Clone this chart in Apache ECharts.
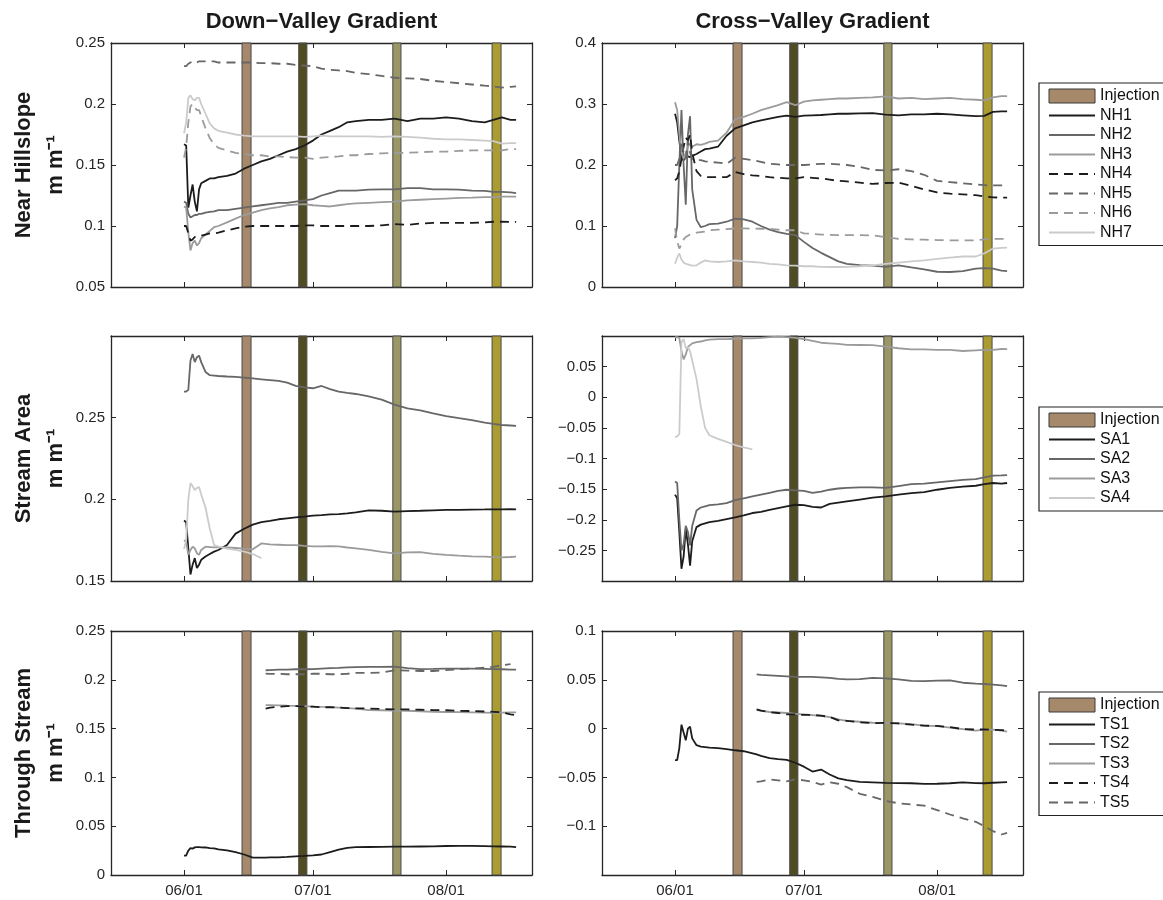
<!DOCTYPE html>
<html>
<head>
<meta charset="utf-8">
<script src="https://cdn.jsdelivr.net/npm/echarts@6.0.0/dist/echarts.min.js"></script>
<style>
html,body{margin:0;padding:0;background:#fff;}
#chart{width:1163px;height:900px;}
</style>
</head>
<body>
<div id="chart"></div>
<script>
// ---------- DATA ----------
// days after 06/01
const D12 = [0,0.5,1,1.5,2,2.5,3,3.5,4,5,6,7,8,10,12,14,16,18,20,22,24,26,28,30,32,34,36,38,40,43,46,49,52,55,58,61,64,67,70,72,74,76,77.3];
const D3  = [0,0.5,1,1.5,2,2.5,3,3.5,4,5,6,7,8,10,12,14,16,19,20,22,24,26,28,30,32,34,36,38,40,43,46,49,52,55,58,61,64,67,70,72,74,76,77.3];
const DE  = [0,0.5,1,1.5,2,2.5,3,3.5,4,5,6,7,8,10,12,14,16,18];
const DL  = [19,20,22,24,26,28,30,32,34,36,38,40,43,46,49,52,55,58,61,64,67,70,72,74,76,77.3];

const xTicks = [0, 30, 61];
const xTickLabels = ['06/01', '07/01', '08/01'];

const injStart = [13.5, 26.7, 48.6, 71.7];
const injEnd   = [15.6, 28.6, 50.5, 73.8];

const rowTitles = ['Down\u2212Valley Gradient', 'Cross\u2212Valley Gradient'];
const rowNames = ['Near Hillslope', 'Stream Area', 'Through Stream'];

const nhNames = ['NH1','NH2','NH3','NH4','NH5','NH6','NH7'];
const saNames = ['SA1','SA2','SA3','SA4'];
const tsNames = ['TS1','TS2','TS3','TS4','TS5'];

// Near Hillslope, down-valley
const dvNH1 = [0.167,0.166,0.115,0.125,0.134,0.12,0.112,0.13,0.135,0.137,0.139,0.139,0.140,0.141,0.143,0.147,0.150,0.153,0.155,0.158,0.161,0.163,0.166,0.170,0.175,0.178,0.181,0.185,0.186,0.187,0.187,0.188,0.186,0.188,0.188,0.189,0.188,0.186,0.185,0.187,0.189,0.187,0.187];
const dvNH2 = [0.12,0.119,0.11,0.107,0.108,0.109,0.109,0.11,0.11,0.111,0.1115,0.112,0.113,0.113,0.114,0.115,0.116,0.117,0.118,0.119,0.119,0.12,0.121,0.122,0.125,0.127,0.129,0.129,0.129,0.1298,0.130,0.130,0.131,0.131,0.130,0.130,0.1298,0.129,0.1288,0.128,0.128,0.1275,0.127];
const dvNH3 = [0.116,0.115,0.095,0.08,0.086,0.088,0.084,0.086,0.09,0.093,0.096,0.099,0.1,0.103,0.106,0.109,0.111,0.113,0.1145,0.1155,0.117,0.1175,0.118,0.117,0.1165,0.116,0.117,0.118,0.1185,0.119,0.1195,0.120,0.121,0.1215,0.122,0.1225,0.123,0.1233,0.1237,0.1237,0.124,0.124,0.124];
const dvNH4 = [0.1,0.1,0.094,0.088,0.089,0.091,0.092,0.092,0.092,0.093,0.094,0.094,0.0945,0.0965,0.098,0.0995,0.1,0.1,0.1,0.1,0.1,0.1,0.1005,0.1005,0.1,0.1,0.1,0.1,0.1,0.1,0.1005,0.1015,0.101,0.102,0.1025,0.1025,0.1025,0.1025,0.103,0.1035,0.1035,0.1033,0.1033];
const dvNH5 = [0.231,0.231,0.233,0.234,0.235,0.234,0.234,0.235,0.235,0.235,0.235,0.235,0.234,0.234,0.234,0.234,0.234,0.2335,0.2335,0.233,0.233,0.232,0.2315,0.231,0.229,0.228,0.2275,0.227,0.2255,0.2245,0.223,0.2215,0.221,0.2205,0.219,0.218,0.217,0.216,0.215,0.2145,0.2135,0.214,0.2145];
const dvNH6 = [0.156,0.165,0.185,0.198,0.2,0.197,0.195,0.195,0.19,0.18,0.172,0.167,0.164,0.162,0.16,0.159,0.158,0.158,0.157,0.157,0.1565,0.156,0.156,0.155,0.156,0.1565,0.157,0.158,0.158,0.159,0.1595,0.160,0.160,0.1605,0.161,0.161,0.1615,0.162,0.162,0.162,0.162,0.163,0.163];
const dvNH7 = [0.176,0.185,0.205,0.207,0.204,0.203,0.205,0.205,0.2,0.192,0.184,0.18,0.178,0.1765,0.175,0.174,0.1735,0.1735,0.1735,0.1735,0.1735,0.1735,0.173,0.1735,0.174,0.1735,0.1735,0.1735,0.1735,0.1735,0.173,0.1735,0.173,0.1725,0.1715,0.171,0.171,0.1705,0.170,0.1695,0.1675,0.168,0.168];

// Near Hillslope, cross-valley
const cvNH1 = [0.284,0.27,0.24,0.21,0.208,0.212,0.214,0.213,0.215,0.218,0.222,0.226,0.227,0.23,0.248,0.26,0.265,0.27,0.273,0.276,0.279,0.281,0.279,0.281,0.2815,0.282,0.283,0.284,0.284,0.2845,0.285,0.2825,0.2815,0.283,0.283,0.284,0.283,0.2815,0.28,0.2805,0.287,0.288,0.288];
const cvNH2 = [0.08,0.1,0.2,0.29,0.2,0.135,0.25,0.28,0.16,0.11,0.098,0.1,0.103,0.104,0.107,0.112,0.111,0.107,0.1,0.094,0.09,0.087,0.085,0.074,0.064,0.056,0.049,0.042,0.038,0.036,0.035,0.033,0.0355,0.032,0.029,0.025,0.0246,0.026,0.03,0.031,0.03,0.027,0.026];
const cvNH3 = [0.303,0.29,0.25,0.22,0.21,0.22,0.23,0.235,0.23,0.234,0.233,0.235,0.238,0.24,0.253,0.275,0.279,0.284,0.29,0.294,0.298,0.303,0.298,0.304,0.306,0.307,0.308,0.309,0.309,0.31,0.311,0.3125,0.309,0.31,0.308,0.309,0.31,0.308,0.307,0.306,0.311,0.313,0.313];
const cvNH4 = [0.175,0.178,0.19,0.21,0.23,0.245,0.24,0.25,0.22,0.19,0.182,0.18,0.18,0.18,0.18,0.1885,0.185,0.183,0.182,0.18,0.179,0.178,0.178,0.18,0.179,0.178,0.176,0.174,0.173,0.171,0.169,0.1705,0.171,0.166,0.16,0.155,0.153,0.152,0.1505,0.1485,0.147,0.1465,0.1465];
const cvNH5 = [0.2,0.2,0.21,0.24,0.22,0.21,0.24,0.22,0.21,0.208,0.208,0.206,0.205,0.204,0.202,0.212,0.21,0.208,0.205,0.202,0.201,0.2,0.2,0.2,0.201,0.202,0.202,0.201,0.2,0.197,0.192,0.191,0.193,0.19,0.184,0.174,0.172,0.17,0.168,0.167,0.1665,0.1667,0.1667];
const cvNH6 = [0.096,0.075,0.063,0.07,0.078,0.082,0.084,0.086,0.087,0.089,0.09,0.091,0.093,0.094,0.095,0.096,0.096,0.0956,0.0955,0.0955,0.094,0.093,0.093,0.088,0.087,0.086,0.0855,0.085,0.085,0.085,0.0845,0.082,0.079,0.078,0.0775,0.077,0.0765,0.0765,0.0765,0.078,0.079,0.079,0.079];
const cvNH7 = [0.038,0.048,0.055,0.045,0.04,0.038,0.037,0.036,0.035,0.0355,0.04,0.0437,0.042,0.041,0.042,0.0437,0.042,0.041,0.04,0.038,0.037,0.0355,0.035,0.034,0.034,0.033,0.0328,0.0328,0.033,0.034,0.0355,0.038,0.04,0.042,0.0437,0.046,0.048,0.05,0.05,0.055,0.063,0.064,0.0645];

// Stream Area, down-valley
const dvSA1 = [0.187,0.186,0.17,0.154,0.16,0.164,0.158,0.16,0.163,0.165,0.1665,0.168,0.169,0.172,0.179,0.182,0.1845,0.186,0.1868,0.1878,0.1884,0.189,0.1894,0.19,0.1903,0.1908,0.191,0.1914,0.192,0.1932,0.193,0.1925,0.1928,0.193,0.1933,0.1935,0.1936,0.1937,0.1938,0.1939,0.1939,0.194,0.1939];
const dvSA2 = [0.266,0.266,0.267,0.285,0.289,0.284,0.287,0.288,0.284,0.278,0.276,0.2758,0.2755,0.2752,0.275,0.2745,0.274,0.2735,0.273,0.2725,0.2715,0.2695,0.2685,0.268,0.2694,0.2675,0.266,0.2652,0.2645,0.263,0.261,0.258,0.2557,0.2545,0.2527,0.251,0.2497,0.2485,0.247,0.2462,0.2455,0.2452,0.245];
const dvSA3 = [0.175,0.174,0.166,0.169,0.171,0.17,0.167,0.166,0.169,0.171,0.1708,0.1706,0.1706,0.1705,0.1702,0.1698,0.1694,0.173,0.1724,0.1722,0.172,0.172,0.1715,0.1712,0.1712,0.1714,0.1712,0.1705,0.170,0.169,0.1678,0.1669,0.1675,0.1677,0.1666,0.166,0.1655,0.1651,0.1649,0.1646,0.1645,0.1647,0.1649];
const dvSA4 = [0.1696,0.175,0.2,0.21,0.208,0.2057,0.207,0.2075,0.203,0.195,0.182,0.172,0.171,0.1698,0.169,0.168,0.1665,0.164];

// Stream Area, cross-valley
const cvSA1 = [-0.159,-0.165,-0.22,-0.28,-0.26,-0.215,-0.24,-0.275,-0.235,-0.212,-0.208,-0.206,-0.204,-0.202,-0.199,-0.196,-0.193,-0.189,-0.187,-0.184,-0.181,-0.178,-0.1755,-0.176,-0.179,-0.18,-0.174,-0.172,-0.17,-0.167,-0.164,-0.162,-0.159,-0.1565,-0.155,-0.151,-0.148,-0.146,-0.1445,-0.142,-0.14,-0.141,-0.14];
const cvSA2 = [-0.1375,-0.14,-0.2,-0.25,-0.24,-0.21,-0.22,-0.242,-0.21,-0.185,-0.18,-0.178,-0.176,-0.175,-0.173,-0.168,-0.165,-0.162,-0.159,-0.156,-0.153,-0.151,-0.152,-0.153,-0.156,-0.154,-0.151,-0.149,-0.148,-0.147,-0.147,-0.148,-0.145,-0.142,-0.141,-0.139,-0.137,-0.135,-0.1337,-0.131,-0.128,-0.1275,-0.127];
const cvSA3 = [0.098,0.098,0.097,0.075,0.062,0.07,0.082,0.085,0.088,0.09,0.091,0.093,0.094,0.095,0.095,0.0955,0.096,0.096,0.097,0.098,0.099,0.098,0.097,0.095,0.092,0.089,0.088,0.087,0.0855,0.0853,0.085,0.0826,0.08,0.0783,0.078,0.0775,0.0772,0.0755,0.0765,0.0772,0.0775,0.0788,0.0785];
const cvSA4 = [-0.065,-0.064,-0.06,0.09,0.095,0.08,0.082,0.075,0.06,0.03,-0.015,-0.05,-0.062,-0.068,-0.073,-0.078,-0.082,-0.085];

// Through Stream, down-valley
const dvTS1 = [0.0198,0.02,0.025,0.0276,0.027,0.0283,0.0286,0.0286,0.0284,0.0282,0.0276,0.0272,0.0262,0.0252,0.0234,0.021,0.0178,0.0178,0.018,0.0181,0.0185,0.019,0.0195,0.0202,0.021,0.0235,0.026,0.0278,0.0285,0.0287,0.0288,0.029,0.029,0.0292,0.0294,0.0297,0.0298,0.0298,0.0296,0.0294,0.0292,0.029,0.0286];
const dvTS2 = [0.2098,0.21,0.2105,0.2105,0.2108,0.2108,0.211,0.2115,0.212,0.2123,0.2128,0.213,0.2132,0.2132,0.2135,0.212,0.211,0.2112,0.2115,0.2115,0.2115,0.2112,0.211,0.2108,0.2105,0.2105];
const dvTS3 = [0.174,0.174,0.1738,0.1735,0.1733,0.173,0.1725,0.1722,0.172,0.1715,0.171,0.1705,0.169,0.1688,0.1685,0.1683,0.1678,0.1672,0.167,0.1668,0.1666,0.1664,0.1662,0.1664,0.1666,0.1666];
const dvTS4 = [0.1705,0.1715,0.1725,0.173,0.173,0.1728,0.1725,0.1718,0.172,0.1715,0.171,0.1708,0.1706,0.1702,0.1696,0.1696,0.1693,0.169,0.1688,0.1682,0.168,0.1675,0.1672,0.1668,0.1645,0.1638];
const dvTS5 = [0.2064,0.206,0.2062,0.2057,0.2057,0.2057,0.2062,0.2062,0.2057,0.2057,0.2062,0.207,0.207,0.2075,0.2098,0.2095,0.209,0.209,0.21,0.2108,0.2115,0.2125,0.2132,0.215,0.216];

// Through Stream, cross-valley
const cvTS1 = [-0.0323,-0.0323,-0.02,0.004,-0.004,-0.012,0.0,0.002,-0.01,-0.017,-0.0185,-0.019,-0.0195,-0.02,-0.021,-0.0222,-0.0232,-0.0265,-0.028,-0.0303,-0.0312,-0.032,-0.035,-0.039,-0.044,-0.042,-0.047,-0.051,-0.0528,-0.0545,-0.055,-0.0556,-0.0558,-0.056,-0.0566,-0.0565,-0.056,-0.055,-0.0558,-0.056,-0.0555,-0.055,-0.0549];
const cvTS2 = [0.0556,0.055,0.0545,0.054,0.0535,0.053,0.053,0.053,0.0525,0.052,0.051,0.0505,0.0507,0.052,0.0515,0.0504,0.049,0.0487,0.0492,0.0494,0.047,0.046,0.0457,0.045,0.0443,0.0435];
const cvTS3 = [0.019,0.0185,0.017,0.0165,0.016,0.015,0.0145,0.0138,0.013,0.0118,0.0095,0.008,0.007,0.006,0.0058,0.0053,0.0045,0.003,0.0026,0.001,-0.0005,-0.002,-0.001,-0.001,-0.002,-0.003];
const cvTS4 = [0.0197,0.0185,0.0168,0.016,0.0145,0.0145,0.014,0.014,0.0132,0.012,0.0085,0.008,0.0065,0.0055,0.0058,0.0053,0.004,0.003,0.0028,0.0015,-0.0005,-0.001,-0.0008,-0.0012,-0.0015,-0.0019];
const cvTS5 = [-0.0545,-0.054,-0.052,-0.053,-0.054,-0.052,-0.053,-0.0545,-0.0573,-0.055,-0.0565,-0.06,-0.0668,-0.07,-0.074,-0.0765,-0.0778,-0.079,-0.0835,-0.088,-0.092,-0.0955,-0.1,-0.105,-0.1085,-0.1068];

// y ticks per panel
const yTicks = [
  [0.05,0.1,0.15,0.2,0.25],
  [0,0.1,0.2,0.3,0.4],
  [0.15,0.2,0.25],
  [-0.25,-0.2,-0.15,-0.1,-0.05,0,0.05],
  [0,0.05,0.1,0.15,0.2,0.25],
  [-0.1,-0.05,0,0.05,0.1]
];
const yTickLabels = [
  ['0.05','0.1','0.15','0.2','0.25'],
  ['0','0.1','0.2','0.3','0.4'],
  ['0.15','0.2','0.25'],
  ['\u22120.25','\u22120.2','\u22120.15','\u22120.1','\u22120.05','0','0.05'],
  ['0','0.05','0.1','0.15','0.2','0.25'],
  ['\u22120.1','\u22120.05','0','0.05','0.1']
];
const yRange = [[0.05,0.25],[0,0.4],[0.15,0.30],[-0.3,0.1],[0,0.25],[-0.15,0.1]];
const xRange = [-17, 81];

// ---------- STYLE ----------
const FF = '"Liberation Sans", Arial, Helvetica, sans-serif';
const AX = '#262626';
const C = { k:'#1c1c1c', d:'#676767', m:'#9b9b9b', l:'#cbcbcb' };
const injColors = ['#a6886a', '#4f4c22', '#9a9666', '#ab9c32'];
const grids = [
  {left:111, top:43, width:421, height:244},
  {left:602, top:43, width:421, height:244},
  {left:111, top:336, width:421, height:245},
  {left:602, top:336, width:421, height:245},
  {left:111, top:631, width:421, height:244},
  {left:602, top:631, width:421, height:244}
];

function fmt(ticks, labels) {
  return function (v) {
    const i = ticks.findIndex(t => Math.abs(t - v) < 1e-9);
    return i >= 0 ? labels[i] : '';
  };
}

const xAxes = [], yAxes = [];
grids.forEach((g, gi) => {
  const bottomRow = gi >= 4;
  [['bottom', bottomRow], ['top', false]].forEach(([pos, show]) => {
    xAxes.push({
      type:'value', gridIndex:gi, position:pos, min:xRange[0], max:xRange[1],
      axisLine:{show:true, onZero:false, lineStyle:{color:AX, width:1.3}},
      axisTick:{show:true, inside:true, length:5, customValues:xTicks, lineStyle:{color:AX, width:1}},
      axisLabel:{show:show, customValues:xTicks, formatter:fmt(xTicks, xTickLabels),
                 fontSize:15, color:AX, margin:8, fontFamily:FF},
      splitLine:{show:false}
    });
  });
  [['left', true], ['right', false]].forEach(([pos, show]) => {
    const ax = {
      type:'value', gridIndex:gi, position:pos, min:yRange[gi][0], max:yRange[gi][1],
      axisLine:{show:true, onZero:false, lineStyle:{color:AX, width:1.3}},
      axisTick:{show:true, inside:true, length:5, customValues:yTicks[gi], lineStyle:{color:AX, width:1}},
      axisLabel:{show:show, customValues:yTicks[gi], formatter:fmt(yTicks[gi], yTickLabels[gi]),
                 fontSize:15, color:AX, margin:6, fontFamily:FF},
      splitLine:{show:false}
    };
    if (show && gi % 2 === 0) {
      ax.name = rowNames[gi / 2] + '\nm m\u207B\u00B9';
      ax.nameLocation = 'middle';
      ax.nameRotate = 90;
      ax.nameGap = 39;
      ax.nameTextStyle = {fontSize:22, fontWeight:'bold', color:'#1a1a1a', fontFamily:FF, lineHeight:32};
    }
    yAxes.push(ax);
  });
});

function ln(name, days, vals, color, dashed, gi) {
  return {
    type:'line', name:name, xAxisIndex:gi*2, yAxisIndex:gi*2,
    data: vals.map((v, i) => [days[i], v]),
    symbol:'none', showSymbol:false, z:3, color:color, silent:true,
    lineStyle:{color:color, width:1.8, type: dashed ? [9, 6] : 'solid'},
    itemStyle:{color:color, opacity:0},
    emphasis:{disabled:true}
  };
}
function inj(gi) {
  return {
    type:'line', name:'Injection', xAxisIndex:gi*2, yAxisIndex:gi*2, data:[], z:1, silent:true,
    color:injColors[0],
    markArea:{silent:true, label:{show:false},
      data: injStart.map((s, i) => [
        {xAxis:s, itemStyle:{color:injColors[i], borderColor:'#4a4a4a', borderWidth:1, opacity:1}},
        {xAxis:injEnd[i]}
      ])}
  };
}

const series = [];
for (let gi = 0; gi < 6; gi++) series.push(inj(gi));
// row 1
series.push(
  ln('NH1', D12, dvNH1, C.k, false, 0), ln('NH2', D12, dvNH2, C.d, false, 0), ln('NH3', D12, dvNH3, C.m, false, 0),
  ln('NH4', D12, dvNH4, C.k, true, 0), ln('NH5', D12, dvNH5, C.d, true, 0), ln('NH6', D12, dvNH6, C.m, true, 0),
  ln('NH7', D12, dvNH7, C.l, false, 0),
  ln('NH1', D12, cvNH1, C.k, false, 1), ln('NH2', D12, cvNH2, C.d, false, 1), ln('NH3', D12, cvNH3, C.m, false, 1),
  ln('NH4', D12, cvNH4, C.k, true, 1), ln('NH5', D12, cvNH5, C.d, true, 1), ln('NH6', D12, cvNH6, C.m, true, 1),
  ln('NH7', D12, cvNH7, C.l, false, 1)
);
// row 2
series.push(
  ln('SA1', D12, dvSA1, C.k, false, 2), ln('SA2', D12, dvSA2, C.d, false, 2), ln('SA3', D12, dvSA3, C.m, false, 2),
  ln('SA4', DE, dvSA4, C.l, false, 2),
  ln('SA1', D12, cvSA1, C.k, false, 3), ln('SA2', D12, cvSA2, C.d, false, 3), ln('SA3', D12, cvSA3, C.m, false, 3),
  ln('SA4', DE, cvSA4, C.l, false, 3)
);
// row 3
series.push(
  ln('TS1', D3, dvTS1, C.k, false, 4), ln('TS2', DL, dvTS2, C.d, false, 4), ln('TS3', DL, dvTS3, C.m, false, 4),
  ln('TS4', DL, dvTS4, C.k, true, 4), ln('TS5', DL, dvTS5, C.d, true, 4),
  ln('TS1', D3, cvTS1, C.k, false, 5), ln('TS2', DL, cvTS2, C.d, false, 5), ln('TS3', DL, cvTS3, C.m, false, 5),
  ln('TS4', DL, cvTS4, C.k, true, 5), ln('TS5', DL, cvTS5, C.d, true, 5)
);

function lg(names, top) {
  return {
    orient:'vertical', left:1039, top:top, selectedMode:false,
    data:[{name:'Injection', icon:'rect', itemStyle:{color:injColors[0], borderColor:'#3a3a3a', borderWidth:1, opacity:1}}].concat(names),
    itemWidth:46, itemHeight:14, itemGap:3.5,
    padding:[5, 60, 5, 9],
    borderColor:'#222', borderWidth:1.2, backgroundColor:'#fff',
    textStyle:{fontSize:16, color:'#111', fontFamily:FF, lineHeight:16}
  };
}

const option = {
  animation:false,
  backgroundColor:'#fff',
  title: [
    {text:rowTitles[0], left:321.5, top:11, textAlign:'center', padding:0,
     textStyle:{fontSize:22, fontWeight:'bold', color:'#1a1a1a', fontFamily:FF}},
    {text:rowTitles[1], left:812.5, top:11, textAlign:'center', padding:0,
     textStyle:{fontSize:22, fontWeight:'bold', color:'#1a1a1a', fontFamily:FF}}
  ],
  legend:[lg(nhNames, 83), lg(saNames, 407), lg(tsNames, 692)],
  grid: grids,
  xAxis: xAxes,
  yAxis: yAxes,
  series: series
};

const chart = echarts.init(document.getElementById('chart'), null, {renderer:'canvas'});
chart.setOption(option);
</script>
</body>
</html>
